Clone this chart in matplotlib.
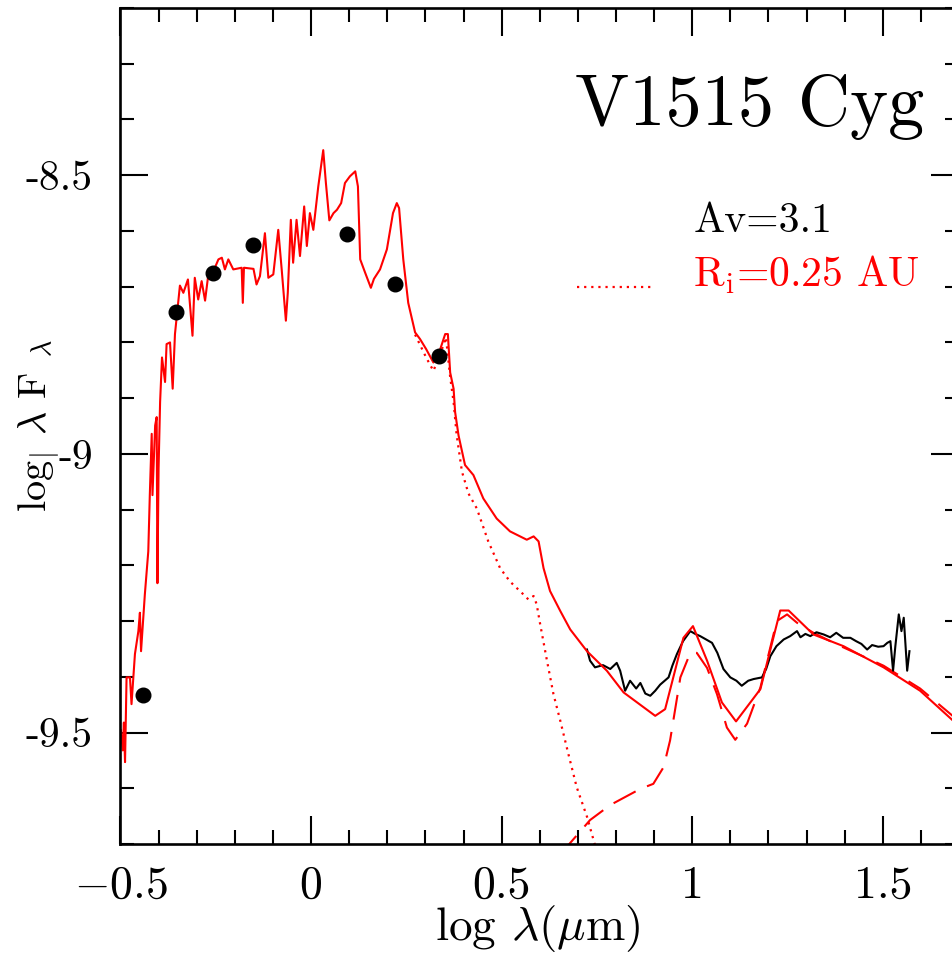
import matplotlib
matplotlib.use('Agg')
import matplotlib.pyplot as plt
from matplotlib.ticker import MultipleLocator, FixedLocator, FixedFormatter
import numpy as np

plt.rcParams['font.family'] = ['cmr10', 'DejaVu Serif']
plt.rcParams['mathtext.fontset'] = 'cm'
plt.rcParams['axes.unicode_minus'] = False

# Model SED (solid red): log lambda (um), log lambda F_lambda
model_x = [-0.499, -0.494, -0.491, -0.488, -0.484, -0.475, -0.471, -0.462, -0.453, -0.449,
           -0.446, -0.440, -0.436, -0.427, -0.423, -0.418, -0.416, -0.409, -0.405, -0.403,
           -0.400, -0.396, -0.391, -0.383, -0.379, -0.370, -0.363, -0.357, -0.344, -0.335,
           -0.323, -0.311, -0.305, -0.296, -0.287, -0.278, -0.270, -0.256, -0.243, -0.234,
           -0.226, -0.217, -0.204, -0.182, -0.179, -0.176, -0.151, -0.143, -0.134, -0.121,
           -0.112, -0.099, -0.086, -0.077, -0.066, -0.061, -0.053, -0.047, -0.038, -0.029,
           -0.018, -0.011, -0.003, 0.006, 0.019, 0.032, 0.039, 0.048, 0.059, 0.068,
           0.079, 0.089, 0.102, 0.116, 0.123, 0.129, 0.142, 0.157, 0.165, 0.181,
           0.199, 0.215, 0.225, 0.231, 0.242, 0.255, 0.273, 0.286, 0.302, 0.321,
           0.339, 0.352, 0.359, 0.365, 0.374, 0.378, 0.387, 0.404, 0.426, 0.452,
           0.487, 0.522, 0.566, 0.584, 0.597, 0.610, 0.627, 0.654, 0.680, 0.724,
           0.776, 0.820, 0.903, 0.929, 0.977, 1.002, 1.039, 1.078, 1.115, 1.179,
           1.231, 1.253, 1.318, 1.397, 1.502, 1.598, 1.685, 1.700]
model_y = [-9.496, -9.532, -9.482, -9.553, -9.401, -9.401, -9.449, -9.359, -9.318, -9.285,
           -9.354, -9.291, -9.252, -9.175, -9.074, -8.964, -9.074, -8.949, -8.934, -9.232,
           -9.026, -8.907, -8.827, -8.871, -8.803, -8.800, -8.883, -8.785, -8.698, -8.711,
           -8.687, -8.788, -8.684, -8.723, -8.690, -8.725, -8.681, -8.672, -8.651, -8.648,
           -8.669, -8.651, -8.669, -8.666, -8.729, -8.666, -8.668, -8.696, -8.681, -8.604,
           -8.684, -8.678, -8.598, -8.669, -8.761, -8.711, -8.580, -8.657, -8.580, -8.645,
           -8.556, -8.627, -8.568, -8.598, -8.520, -8.455, -8.514, -8.581, -8.568, -8.562,
           -8.550, -8.514, -8.502, -8.493, -8.520, -8.651, -8.675, -8.702, -8.686, -8.669,
           -8.633, -8.568, -8.550, -8.559, -8.651, -8.729, -8.782, -8.794, -8.812, -8.836,
           -8.812, -8.785, -8.785, -8.854, -8.883, -8.925, -8.967, -9.020, -9.038, -9.080,
           -9.116, -9.139, -9.154, -9.148, -9.157, -9.205, -9.246, -9.282, -9.315, -9.354,
           -9.389, -9.428, -9.470, -9.458, -9.330, -9.309, -9.371, -9.446, -9.480, -9.422,
           -9.281, -9.281, -9.324, -9.345, -9.383, -9.425, -9.479, -9.490]

# Stellar photosphere (dotted red)
star_x = [0.273, 0.302, 0.321, 0.339, 0.354, 0.365, 0.374, 0.382, 0.396, 0.413,
          0.435, 0.465, 0.496, 0.522, 0.557, 0.570, 0.584, 0.592, 0.601, 0.619,
          0.636, 0.654, 0.675, 0.697, 0.724, 0.745]
star_y = [-8.786, -8.827, -8.851, -8.821, -8.791, -8.862, -8.907, -8.966, -9.032, -9.071,
          -9.098, -9.157, -9.205, -9.229, -9.252, -9.261, -9.255, -9.270, -9.305, -9.371,
          -9.431, -9.479, -9.538, -9.598, -9.651, -9.702]

# Disk emission (dashed red)
disk_x = [0.654, 0.675, 0.732, 0.785, 0.864, 0.898, 0.925, 0.942, 0.969, 0.995,
          1.012, 1.039, 1.065, 1.091, 1.113, 1.144, 1.179, 1.222, 1.249, 1.275,
          1.318, 1.380, 1.502, 1.598, 1.685, 1.700]
disk_y = [-9.720, -9.702, -9.657, -9.630, -9.601, -9.592, -9.562, -9.514, -9.401, -9.357,
          -9.357, -9.384, -9.431, -9.491, -9.513, -9.484, -9.419, -9.300, -9.288, -9.303,
          -9.321, -9.342, -9.380, -9.421, -9.471, -9.481]

# IRS spectrum (black)
irs_x = [0.724, 0.732, 0.745, 0.766, 0.785, 0.802, 0.811, 0.824, 0.837, 0.853,
         0.864, 0.877, 0.890, 0.903, 0.916, 0.938, 0.948, 0.960, 0.976, 0.995,
         1.008, 1.021, 1.034, 1.052, 1.066, 1.082, 1.100, 1.116, 1.130, 1.147,
         1.161, 1.183, 1.194, 1.205, 1.221, 1.240, 1.257, 1.275, 1.284, 1.297,
         1.310, 1.326, 1.345, 1.362, 1.378, 1.396, 1.415, 1.430, 1.444, 1.459,
         1.472, 1.488, 1.502, 1.512, 1.520, 1.527, 1.533, 1.542, 1.549, 1.555,
         1.564, 1.570]
irs_y = [-9.351, -9.371, -9.383, -9.379, -9.386, -9.375, -9.389, -9.425, -9.407, -9.421,
         -9.411, -9.430, -9.434, -9.425, -9.414, -9.401, -9.380, -9.359, -9.336, -9.318,
         -9.323, -9.327, -9.332, -9.339, -9.357, -9.386, -9.401, -9.407, -9.416, -9.407,
         -9.404, -9.401, -9.386, -9.363, -9.345, -9.333, -9.327, -9.318, -9.329, -9.323,
         -9.327, -9.320, -9.324, -9.329, -9.321, -9.330, -9.330, -9.336, -9.341, -9.351,
         -9.343, -9.346, -9.345, -9.339, -9.336, -9.389, -9.345, -9.288, -9.318, -9.294,
         -9.389, -9.354]

# Photometry (black dots)
phot_x = [-0.442, -0.354, -0.258, -0.153, 0.095, 0.221, 0.335]
phot_y = [-9.433, -8.745, -8.675, -8.626, -8.605, -8.695, -8.824]

xtick_vals = [-0.5, 0, 0.5, 1, 1.5]
xtick_text = [r'$-0.5$', '0', '0.5', '1', '1.5']
ytick_vals = [-9.5, -9, -8.5]
ytick_text = ['-9.5', '-9', '-8.5']

fig = plt.figure(figsize=(9.53, 9.55), dpi=100)
ax = fig.add_axes([0.1264, 0.1162, 0.8799, 0.8754])

ax.plot(star_x, star_y, color='red', lw=1.6, ls=(0, (1, 2.2)))
ax.plot(disk_x, disk_y, color='red', lw=1.5, ls=(0, (12, 6)))
ax.plot(irs_x, irs_y, color='black', lw=1.5)
ax.plot(model_x, model_y, color='red', lw=1.5)
ax.plot(phot_x, phot_y, 'o', color='black', ms=10.5, mec='black')

ax.set_xlim(-0.5, 1.70)
ax.set_ylim(-9.7, -8.2)

# Ticks on every side, pointing in
ax.xaxis.set_major_locator(FixedLocator(xtick_vals))
ax.xaxis.set_major_formatter(FixedFormatter(xtick_text))
ax.xaxis.set_minor_locator(MultipleLocator(0.1))
ax.yaxis.set_major_locator(FixedLocator(ytick_vals))
ax.yaxis.set_major_formatter(FixedFormatter(ytick_text))
ax.yaxis.set_minor_locator(MultipleLocator(0.1))
ax.tick_params(which='both', direction='in', top=True, right=True, width=1.5)
ax.tick_params(which='major', length=20)
ax.tick_params(which='minor', length=10)
ax.tick_params(axis='x', which='major', labelsize=33, pad=15)
ax.tick_params(axis='y', which='major', labelsize=30, pad=20)
for s in ax.spines.values():
    s.set_linewidth(1.9)

ax.set_xlabel(r'log $\lambda(\mu$m)', fontsize=34)
ax.xaxis.set_label_coords(0.497, -0.070)
ax.set_ylabel(r'log$_{|}$ $\lambda$ F $_{\lambda}$', fontsize=29)
ax.yaxis.set_label_coords(-0.070, 0.50)

# Labels in the upper right
ax.text(0.959, 0.860, 'V1515 Cyg', transform=ax.transAxes, fontsize=52,
        ha='right', va='baseline')
ax.text(0.683, 0.732, 'Av=3.1', transform=ax.transAxes, fontsize=30,
        ha='left', va='baseline')
ax.text(0.683, 0.666, r'R$_{\rm i}$=0.25 AU', transform=ax.transAxes, fontsize=30,
        ha='left', va='baseline', color='red')
ax.plot([0.5444, 0.6374], [0.6663, 0.6663], transform=ax.transAxes,
        color='red', lw=1.6, ls=(0, (1, 2.2)))

fig.savefig('out.png', dpi=100)
